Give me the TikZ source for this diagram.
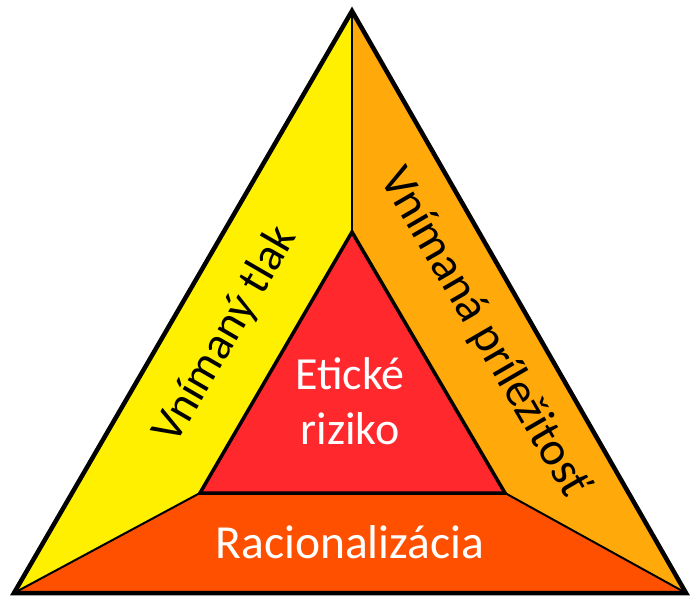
\documentclass[tikz,border=0pt]{standalone}
\usepackage{fontspec}
\setmainfont{Carlito}
\definecolor{tlak}{RGB}{255,240,0}
\definecolor{prilez}{RGB}{255,170,10}
\definecolor{racio}{RGB}{255,80,0}
\definecolor{riziko}{RGB}{255,40,45}
\tikzset{
  side/.style={draw=black, line width=2pt, line join=round},
  label/.style={font=\fontsize{46}{55}\selectfont, align=center, inner sep=0pt}
}
\begin{document}
\begin{tikzpicture}[y=1.0pt, x=1.0pt]
    \useasboundingbox (0,0) rectangle (692,597);
    % corners
    \coordinate (top) at (352,586);
    \coordinate (bl) at (14,4);
    \coordinate (br) at (686,4);
    \coordinate (itop) at (352,365);
    \coordinate (ibl) at (200,104);
    \coordinate (ibr) at (505,104);
    % three sides
    \fill[tlak] (top) -- (bl) -- (ibl) -- (itop) -- cycle;
    \fill[prilez] (top) -- (itop) -- (ibr) -- (br) -- cycle;
    \fill[racio] (bl) -- (br) -- (ibr) -- (ibl) -- cycle;
    \draw[side] (top) -- (itop);
    \draw[side] (bl) -- (ibl);
    \draw[side] (br) -- (ibr);
    % middle
    \filldraw[fill=riziko, draw=black, line width=3.5pt, line join=miter] (itop) -- (ibl) -- (ibr) -- cycle;
    % outline
    \draw[line width=4.5pt, line join=miter] (top) -- (bl) -- (br) -- cycle;
    % texts
    \node[label, text=white] (eticke) at (350,196) {Etické\\riziko};
    \node[label, text=white, anchor=base, font=\fontsize{47.5}{55}\selectfont] (racionalizacia) at (350,39) {Racionalizácia};
    \node[label, rotate=59.86] (vnimanytlak) at (226,262) {Vnímaný tlak};
    \node[label, rotate=-59.86, font=\fontsize{47.5}{55}\selectfont] (prilezitost) at (484,264) {Vnímaná príležitosť};
\end{tikzpicture}
\end{document}
